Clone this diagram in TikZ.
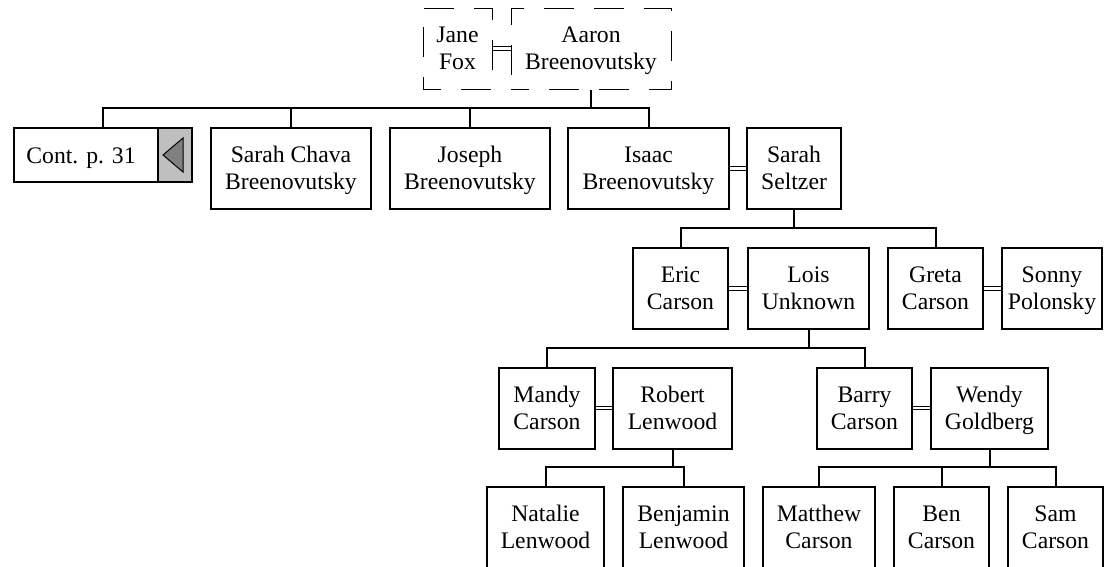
\documentclass[tikz,border=0pt]{standalone}
\usepackage{fontspec}
\setmainfont{Liberation Serif}
\usetikzlibrary{calc}
\tikzset{
  person/.style= {draw, line width=2pt, minimum height=81pt, inner sep=2pt, align=center,
                  text height=47.7pt, text depth=5.4pt, font=\fontsize{23.7}{26.7}\selectfont},
  ghost/.style= {person, line width=1pt, dash pattern=on 30pt off 20pt, dash phase=12pt},
  marriage/.style= {double, double distance=2.6pt, line width=0.9pt},
  kin/.style= {line width=2pt},
}

\begin{document}
\begin{tikzpicture}[x=1pt, y=-1pt]
  \useasboundingbox (0,0) rectangle (1105,566);

  % top couple
  \node [ghost, minimum width=69pt] (jane) at (457.5,48.5) {Jane\\Fox} ;
  \node [ghost, minimum width=160pt] (aaron) at (591,48.5) {Aaron\\Breenovutsky} ;

  % children
  \node [person, minimum width=144pt, minimum height=54pt, text height=21pt, text depth=4.4pt] (cont) at (86,155) {\hspace*{-10pt}Cont. p. 31} ;
  \node [person, minimum width=34pt, minimum height=54pt, text height=0pt, text depth=0pt, fill=gray!50] (more) at (175,155) {} ;
  \node [person, minimum width=160pt] (chava) at (291,168.5) {Sarah Chava\\Breenovutsky} ;
  \node [person, minimum width=160pt] (joseph) at (470,168.5) {Joseph\\Breenovutsky} ;
  \node [person, minimum width=161pt] (isaac) at (648.5,168.5) {Isaac\\Breenovutsky} ;
  \node [person, minimum width=94pt] (seltzer) at (794,168.5) {Sarah\\Seltzer} ;

  % grandchildren
  \node [person, minimum width=95pt] (eric) at (680.5,288.5) {Eric\\Carson} ;
  \node [person, minimum width=121pt] (lois) at (808.5,288.5) {Lois\\Unknown} ;
  \node [person, minimum width=95pt] (greta) at (935.5,288.5) {Greta\\Carson} ;
  \node [person, minimum width=100pt] (sonny) at (1052,288.5) {Sonny\\Polonsky} ;

  \node [person, minimum width=96pt] (mandy) at (547,408) {Mandy\\Carson} ;
  \node [person, minimum width=119pt] (robert) at (672.5,408) {Robert\\Lenwood} ;
  \node [person, minimum width=95pt] (barry) at (864.5,408) {Barry\\Carson} ;
  \node [person, minimum width=117pt] (wendy) at (989.5,408) {Wendy\\Goldberg} ;

  \node [person, minimum width=117pt] (natalie) at (545.5,527.5) {Natalie\\Lenwood} ;
  \node [person, minimum width=121pt] (benjamin) at (683.5,527.5) {Benjamin\\Lenwood} ;
  \node [person, minimum width=112pt] (matthew) at (819,527.5) {Matthew\\Carson} ;
  \node [person, minimum width=95pt] (ben) at (941.5,527.5) {Ben\\Carson} ;
  \node [person, minimum width=95pt] (sam) at (1055.5,527.5) {Sam\\Carson} ;

  % back-arrow on the continuation box
  \draw [line width=1pt, fill=gray] ($(more.center)+(-12,0)$) -- ++(20,-17) -- ++(0,34) -- cycle ;

  % marriages
  \draw [marriage] (jane) -- (aaron) ;
  \draw [marriage] (isaac) -- (seltzer) ;
  \draw [marriage] (eric) -- (lois) ;
  \draw [marriage] (greta) -- (sonny) ;
  \draw [marriage] (mandy) -- (robert) ;
  \draw [marriage] (barry) -- (wendy) ;

  % descent lines
  \coordinate (bar0) at (591,108) ;
  \coordinate (bar1) at (794,228) ;
  \coordinate (bar2) at (808.5,348) ;
  \coordinate (bar3) at (672.5,467) ;
  \coordinate (bar4) at (989.5,467) ;
  \coordinate (contTop) at (103,128) ;

  \draw [kin] (aaron.south) -- (bar0) ;
  \foreach \kid in {chava, joseph, isaac}
    \draw [kin] (\kid.north) |- (bar0) ;
  \draw [kin] (contTop) |- (bar0) ;

  \draw [kin] (seltzer.south) -- (bar1) ;
  \foreach \kid in {eric, greta}
    \draw [kin] (\kid.north) |- (bar1) ;

  \draw [kin] (lois.south) -- (bar2) ;
  \foreach \kid in {mandy, barry}
    \draw [kin] (\kid.north) |- (bar2) ;

  \draw [kin] (robert.south) -- (bar3) ;
  \foreach \kid in {natalie, benjamin}
    \draw [kin] (\kid.north) |- (bar3) ;

  \draw [kin] (wendy.south) -- (bar4) ;
  \foreach \kid in {matthew, ben, sam}
    \draw [kin] (\kid.north) |- (bar4) ;
\end{tikzpicture}
\end{document}
